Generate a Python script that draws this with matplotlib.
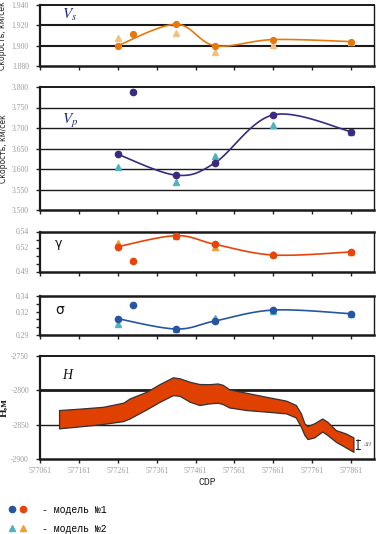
import numpy as np
import matplotlib
matplotlib.use("Agg")
import matplotlib.pyplot as plt
from matplotlib.lines import Line2D
from matplotlib.legend_handler import HandlerTuple

plt.rcParams['mathtext.fontset'] = 'stix'

# ---------------- data ----------------
cdp = [577261, 577301, 577411, 577511, 577661, 577861]
cdp2 = [577261, 577411, 577511, 577661, 577861]

vs_m1 = [1.900, 1.911, 1.921, 1.900, 1.906, 1.904]
vs_m2 = [1.908, 1.912, 1.894, 1.901, 1.904]

vp_m1 = [3.636, 3.789, 3.585, 3.615, 3.732, 3.691]
vp_m2 = [3.605, 3.569, 3.632, 3.708, 3.691]

gam_m1 = [0.521, 0.5035, 0.5348, 0.524, 0.5106, 0.5144]
gam_m2 = [0.526, 0.5344, 0.521, 0.5115, 0.5144]

sig_m1 = [0.3109, 0.3285, 0.2977, 0.308, 0.322, 0.3173]
sig_m2 = [0.304, 0.298, 0.3122, 0.3212, 0.3173]

h_cdp = [577110, 577172, 577223, 577275, 577292, 577335, 577369, 577403, 577420,
         577446, 577471, 577497, 577518, 577531, 577548, 577591, 577642, 577694,
         577719, 577732, 577741, 577749, 577766, 577787, 577800, 577822, 577847, 577867]
h_top = [-2828.7, -2826.3, -2824, -2818, -2811.7, -2802, -2790.8, -2781, -2782.5,
         -2787.5, -2790.8, -2791, -2790, -2792, -2798.6, -2803.5, -2809.3, -2815,
         -2821.4, -2833.6, -2848, -2852, -2848, -2841, -2845.8, -2858, -2862.7, -2868.6]
h_bot = [-2855.4, -2852, -2849, -2844.8, -2840.8, -2827.7, -2816.6, -2807, -2808,
         -2816.6, -2821.4, -2819, -2818, -2820, -2825, -2828.7, -2831, -2833.6,
         -2839.5, -2853, -2865, -2871, -2868.6, -2860, -2865, -2875, -2883, -2889.5]

xticks = [577061, 577161, 577261, 577361, 577461, 577561, 577661, 577761, 577861]
xlim = (577061, 577920)

# ---------------- figure ----------------
W, H = 378, 534
fig = plt.figure(figsize=(W / 100, H / 100), dpi=100)

def rect(top, bottom, left=40, right=374):
    return [left / W, 1 - bottom / H, (right - left) / W, (bottom - top) / H]

tick_font = dict(family='Liberation Serif', size=5.5, color='#9a9a9a')


def excel_smooth(ax, xs, ys, n=30):
    pts = ax.transData.transform(np.column_stack([xs, ys]))
    m = len(pts)
    out = []
    for i in range(m - 1):
        p0 = pts[max(i - 1, 0)]
        p1 = pts[i]
        p2 = pts[i + 1]
        p3 = pts[min(i + 2, m - 1)]
        c1 = p1 + (p2 - p0) / 6.0
        c2 = p2 - (p3 - p1) / 6.0
        t = np.linspace(0, 1, n)[:, None]
        seg = ((1 - t) ** 3) * p1 + 3 * ((1 - t) ** 2) * t * c1 + 3 * (1 - t) * t ** 2 * c2 + t ** 3 * p2
        out.append(seg if i == 0 else seg[1:])
    out = np.vstack(out)
    d = ax.transData.inverted().transform(out)
    return d[:, 0], d[:, 1]


def style_axes(ax, ylim, yticks, ylabels, minor=None, grid=None, xlabels=False):
    ax.set_xlim(*xlim)
    ax.set_ylim(*ylim)
    ax.set_xticks(xticks)
    if xlabels:
        ax.set_xticklabels([str(t) for t in xticks], fontdict=tick_font)
    else:
        ax.set_xticklabels([])
    ax.set_yticks(yticks)
    ax.set_yticklabels(ylabels, fontdict=tick_font)
    if minor is not None:
        ax.set_yticks(minor, minor=True)
    ax.tick_params(axis='x', direction='out', length=3, width=1, color='#222', pad=3)
    ax.tick_params(axis='y', direction='out', length=3, width=1, color='#222', pad=5)
    ax.tick_params(axis='y', which='minor', direction='out', length=3, width=1, color='#222')
    ax.spines['left'].set_linewidth(1.6)
    ax.spines['bottom'].set_linewidth(1.8)
    ax.spines['top'].set_linewidth(1.4)
    ax.spines['right'].set_linewidth(1.0)
    for s in ax.spines.values():
        s.set_color('#1a1a1a')
    if grid:
        for g, lw in grid:
            ax.axhline(g, color='#1a1a1a', lw=lw, zorder=1)


ylab_font = dict(family='DejaVu Sans', size=5.5, color='#222')

# ---- Vs ----
ax1 = fig.add_axes(rect(5, 66))
style_axes(ax1, (1.880, 1.940), [1.880, 1.900, 1.920, 1.940],
           ['1.880', '1.900', '1.920', '1.940'], grid=[(1.900, 1.5), (1.920, 1.5)])
c_vs = '#E8780A'
xs, ys = excel_smooth(ax1, cdp2, [vs_m1[i] for i in (0, 2, 3, 4, 5)])
ax1.plot(xs, ys, color=c_vs, lw=1.2, zorder=3)
ax1.plot(cdp2, vs_m2, '^', color='#F2C080', ms=4, zorder=4)
ax1.plot(cdp, vs_m1, 'o', color=c_vs, ms=4.2, zorder=5)
ax1.text(0.065, 0.78, r'$V_s$', transform=ax1.transAxes, fontsize=11, color='#1d2a78')
ax1.set_ylabel('Скорость, км/сек', fontdict=ylab_font, labelpad=3)

# ---- Vp ----
ax2 = fig.add_axes(rect(87, 210))
vt = [3.50, 3.55, 3.60, 3.65, 3.70, 3.75, 3.80]
style_axes(ax2, (3.50, 3.80), vt, ['%.3f' % v for v in vt],
           grid=[(v, 1.0) for v in vt[1:-1]])
c_vp = '#3A2A80'
xs, ys = excel_smooth(ax2, cdp2, [vp_m1[i] for i in (0, 2, 3, 4, 5)])
ax2.plot(xs, ys, color=c_vp, lw=1.2, zorder=3)
ax2.plot(cdp2, vp_m2, '^', color='#4FB3BF', ms=4, zorder=4)
ax2.plot(cdp, vp_m1, 'o', color=c_vp, ms=4.5, zorder=5)
ax2.text(0.065, 0.70, r'$V_p$', transform=ax2.transAxes, fontsize=11, color='#1d2a78')
ax2.set_ylabel('Скорость, км/сек', fontdict=ylab_font, labelpad=3)

# ---- gamma ----
ax3 = fig.add_axes(rect(231.5, 271.5))
style_axes(ax3, (0.49, 0.54), [0.49, 0.52, 0.54], ['0.49', '0.52', '0.54'],
           minor=[0.50, 0.51, 0.53])
ax3.spines['top'].set_linewidth(1.8)
c_g = '#E8440A'
xs, ys = excel_smooth(ax3, cdp2, [gam_m1[i] for i in (0, 2, 3, 4, 5)])
ax3.plot(xs, ys, color=c_g, lw=1.2, zorder=3)
ax3.plot(cdp2, gam_m2, '^', color='#F0A030', ms=4, zorder=4)
ax3.plot(cdp, gam_m1, 'o', color=c_g, ms=4.5, zorder=5)
ax3.text(0.045, 0.62, 'γ', transform=ax3.transAxes, fontsize=9, family='DejaVu Sans', color='#111')

# ---- sigma ----
ax4 = fig.add_axes(rect(296, 335))
style_axes(ax4, (0.29, 0.34), [0.29, 0.32, 0.34], ['0.29', '0.32', '0.34'],
           minor=[0.30, 0.31, 0.33])
ax4.spines['top'].set_linewidth(1.8)
c_s = '#2656A0'
xs, ys = excel_smooth(ax4, cdp2, [sig_m1[i] for i in (0, 2, 3, 4, 5)])
ax4.plot(xs, ys, color=c_s, lw=1.2, zorder=3)
ax4.plot(cdp2, sig_m2, '^', color='#4FB3BF', ms=4, zorder=4)
ax4.plot(cdp, sig_m1, 'o', color=c_s, ms=4.5, zorder=5)
ax4.text(0.045, 0.55, 'σ', transform=ax4.transAxes, fontsize=10, family='DejaVu Sans', color='#111')

# ---- H ----
ax5 = fig.add_axes(rect(356, 459))
ht = [-2900, -2850, -2800, -2750]
style_axes(ax5, (-2900, -2750), ht, [str(v) for v in ht],
           grid=[(-2800, 2.0), (-2850, 1.0)], xlabels=True)
ax5.fill_between(h_cdp, h_bot, h_top, facecolor='#E04000', edgecolor='#333333',
                 lw=0.9, zorder=3)
ax5.text(0.065, 0.78, 'H', transform=ax5.transAxes, fontsize=10,
         family='Liberation Serif', style='italic', color='#111')
ax5.set_ylabel('Н,м', fontdict=dict(family='Liberation Serif', size=8, color='#222',
                                     weight='bold'), labelpad=2)
ax5.set_xlabel('CDP', fontdict=dict(family='Liberation Mono', size=7, color='#222'),
               labelpad=1)
ax5.annotate('', xy=(577879, -2868), xytext=(577879, -2890),
             arrowprops=dict(arrowstyle='|-|,widthA=0.15,widthB=0.15', color='#222', lw=0.8))
ax5.text(577893, -2879, 'ΔH', fontsize=4.5, style='italic', color='#777',
         family='Liberation Serif', va='center')

# ---- legend ----
h1 = (Line2D([], [], ls='', marker='o', color=c_s, ms=4.5),
      Line2D([], [], ls='', marker='o', color=c_g, ms=4.5))
h2 = (Line2D([], [], ls='', marker='^', color='#4FB3BF', ms=4.5),
      Line2D([], [], ls='', marker='^', color='#F0A030', ms=4.5))
fig.legend([h1, h2], ['- модель №1', '- модель №2'],
           handler_map={tuple: HandlerTuple(ndivide=None, pad=0.3)},
           loc='upper left', bbox_to_anchor=(0.0, 1 - 496 / H), frameon=False,
           prop=dict(family='Liberation Mono', size=7), handlelength=1.8,
           handletextpad=1.6, labelspacing=0.9)

fig.savefig('out.png', dpi=100)
